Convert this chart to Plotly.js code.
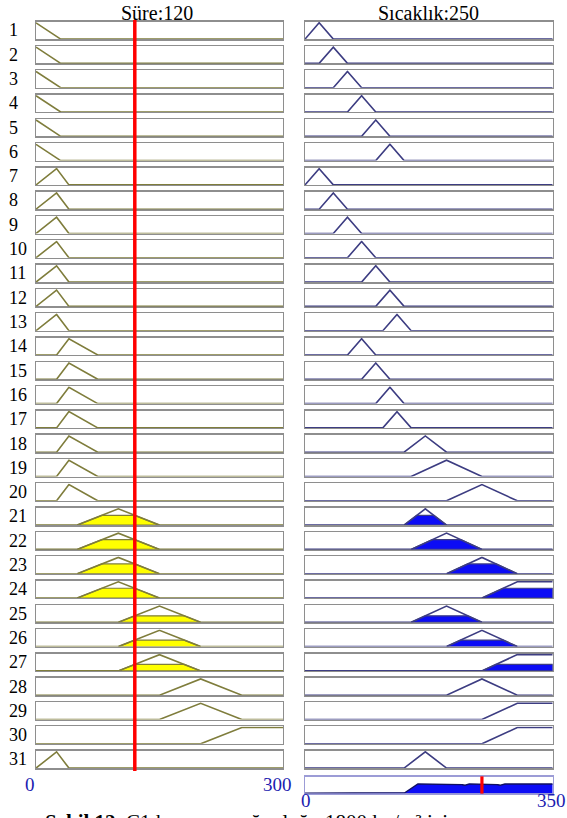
<!DOCTYPE html>
<html>
<head>
<meta charset="utf-8">
<script src="https://cdn.plot.ly/plotly-3.0.1.min.js"></script>
<style>
  html, body { margin: 0; padding: 0; background: #ffffff; }
  #chart { width: 567px; height: 818px; }
</style>
</head>
<body>
<div id="chart"></div>
<script>
// Fuzzy rule viewer: input "Süre", output "Sıcaklık", 31 rules.
const ruleNumbers = Array.from({length: 31}, (_, i) => String(i + 1));

const sureRange = [0, 300];
const sicaklikRange = [0, 350];
const sureInput = 120;        // crisp input value
const sicaklikOutput = 250;   // defuzzified output value

// Trapezoid parameters [a, b, c, d] (triangles have b == c) for each rule's antecedent
const sureMf = [
  [0, 0, 0, 30], [0, 0, 0, 30], [0, 0, 0, 30], [0, 0, 0, 30], [0, 0, 0, 30], [0, 0, 0, 30],
  [0, 25, 25, 40], [0, 25, 25, 40], [0, 25, 25, 40], [0, 25, 25, 40], [0, 25, 25, 40], [0, 25, 25, 40], [0, 25, 25, 40],
  [25, 40, 40, 75], [25, 40, 40, 75], [25, 40, 40, 75], [25, 40, 40, 75], [25, 40, 40, 75], [25, 40, 40, 75], [25, 40, 40, 75],
  [50, 100, 100, 150], [50, 100, 100, 150], [50, 100, 100, 150], [50, 100, 100, 150],
  [100, 150, 150, 200], [100, 150, 150, 200], [100, 150, 150, 200],
  [150, 200, 200, 250], [150, 200, 200, 250],
  [200, 250, 300, 300],
  [0, 25, 25, 40]
];

// Consequent membership functions for each rule
const sicaklikMf = [
  [0, 20, 20, 40], [20, 40, 40, 60], [40, 60, 60, 80], [60, 80, 80, 100], [80, 100, 100, 120], [100, 120, 120, 140],
  [0, 20, 20, 40], [20, 40, 40, 60], [40, 60, 60, 80], [60, 80, 80, 100], [80, 100, 100, 120], [100, 120, 120, 140],
  [110, 130, 130, 150],
  [60, 80, 80, 100], [80, 100, 100, 120], [100, 120, 120, 140], [110, 130, 130, 150],
  [140, 170, 170, 200], [150, 200, 200, 250], [200, 250, 250, 300],
  [140, 170, 170, 200], [150, 200, 200, 250], [200, 250, 250, 300], [250, 300, 350, 350],
  [150, 200, 200, 250], [200, 250, 250, 300], [250, 300, 350, 350],
  [200, 250, 250, 300], [250, 300, 350, 350], [250, 300, 350, 350],
  [140, 170, 170, 200]
];

// ---- page geometry (pixels) ----
const W = 567, H = 818;
const rowTop0 = 21.7, rowPitch = 24.3, rowH = 17.4;
const leftPx = [36, 283], rightPx = [305, 552.7];
const outTop = 776.7, outBottom = 793.3;
const yRange = [0, 1.07];

const colInput = '#7f7d3c', colOutput = '#3d3d82';
const fillInput = '#ffff00', fillOutput = '#0c0cf5';

const px = v => v / W;
const py = v => 1 - v / H;

function mu(p, x) {
  const [a, b, c, d] = p;
  if (x < a || x > d) return 0;
  if (x < b) return (x - a) / (b - a);
  if (x <= c) return 1;
  return (d - x) / (d - c);
}

// full membership curve across the universe, baseline included
function mfLine(p, range) {
  const [a, b, c, d] = p;
  const xs = [], ys = [];
  if (a === range[0] && b === a) { xs.push(a); ys.push(1); }
  else { xs.push(range[0], a, b); ys.push(0, 0, 1); }
  if (c !== b) { xs.push(c); ys.push(1); }
  if (!(d === range[1] && c === d)) { xs.push(d, range[1]); ys.push(0, 0); }
  return {x: xs, y: ys};
}

// membership area clipped at level h
function clipped(p, h) {
  const [a, b, c, d] = p;
  const xl = a + h * (b - a), xr = d - h * (d - c);
  return {x: [a, xl, xr, d, a], y: [0, h, h, 0, 0]};
}

const traces = [];
const layout = {
  width: W, height: H,
  margin: {l: 0, r: 0, t: 0, b: 0},
  paper_bgcolor: '#ffffff', plot_bgcolor: '#ffffff',
  showlegend: false,
  font: {family: 'Liberation Serif, Times New Roman, serif', color: '#000'},
  shapes: [], annotations: []
};

function addAxes(idx, xDom, yDom, range, frameColor) {
  const k = idx === 1 ? '' : String(idx);
  layout['xaxis' + k] = {
    domain: xDom, range: range, anchor: 'y' + k,
    showticklabels: false, ticks: '', showgrid: false, zeroline: false,
    showline: true, mirror: true, linecolor: frameColor, linewidth: 1.4,
    layer: 'below traces', fixedrange: true
  };
  layout['yaxis' + k] = {
    domain: yDom, range: yRange, anchor: 'x' + k,
    showticklabels: false, ticks: '', showgrid: false, zeroline: false,
    showline: true, mirror: true, linecolor: frameColor, linewidth: 1.4,
    layer: 'below traces', fixedrange: true
  };
  return {xa: 'x' + k, ya: 'y' + k};
}

const strengths = sureMf.map(p => mu(p, sureInput));

ruleNumbers.forEach((label, r) => {
  const top = rowTop0 + r * rowPitch;
  const yDom = [py(top + rowH), py(top)];

  // antecedent
  const L = addAxes(2 * r + 1, [px(leftPx[0]), px(leftPx[1])], yDom, sureRange, '#8e8e8e');
  const w = strengths[r];
  if (w > 0) {
    const f = clipped(sureMf[r], w);
    traces.push({type: 'scatter', mode: 'lines', x: f.x, y: f.y, xaxis: L.xa, yaxis: L.ya,
      fill: 'toself', fillcolor: fillInput, line: {color: colInput, width: 1.2}, hoverinfo: 'skip'});
  }
  const m1 = mfLine(sureMf[r], sureRange);
  traces.push({type: 'scatter', mode: 'lines', x: m1.x, y: m1.y, xaxis: L.xa, yaxis: L.ya,
    line: {color: colInput, width: 1.6}, hoverinfo: 'skip'});

  // consequent
  const R = addAxes(2 * r + 2, [px(rightPx[0]), px(rightPx[1])], yDom, sicaklikRange, '#8e8e8e');
  if (w > 0) {
    const f = clipped(sicaklikMf[r], w);
    traces.push({type: 'scatter', mode: 'lines', x: f.x, y: f.y, xaxis: R.xa, yaxis: R.ya,
      fill: 'toself', fillcolor: fillOutput, line: {color: colOutput, width: 1.2}, hoverinfo: 'skip'});
  }
  const m2 = mfLine(sicaklikMf[r], sicaklikRange);
  traces.push({type: 'scatter', mode: 'lines', x: m2.x, y: m2.y, xaxis: R.xa, yaxis: R.ya,
    line: {color: colOutput, width: 1.6}, hoverinfo: 'skip'});

  layout.annotations.push({
    xref: 'paper', yref: 'paper', x: px(7), y: py(top + rowH / 2),
    xanchor: 'left', yanchor: 'middle', showarrow: false, text: label,
    font: {size: 18, color: '#000', family: 'Liberation Serif, serif'}
  });
});

// aggregated output (max of clipped consequents)
const O = addAxes(63, [px(rightPx[0]), px(rightPx[1])], [py(outBottom), py(outTop)], sicaklikRange, '#9c9cd6');
const aggX = [], aggY = [];
for (let x = sicaklikRange[0]; x <= sicaklikRange[1]; x += 0.5) {
  let v = 0;
  sicaklikMf.forEach((p, i) => { v = Math.max(v, Math.min(mu(p, x), strengths[i])); });
  aggX.push(x); aggY.push(v);
}
traces.push({type: 'scatter', mode: 'lines', x: aggX, y: aggY, xaxis: O.xa, yaxis: O.ya,
  fill: 'tozeroy', fillcolor: fillOutput, line: {color: '#101060', width: 1.4}, hoverinfo: 'skip'});

// crisp input / output markers
layout.shapes.push({type: 'line', xref: 'x', yref: 'paper', x0: sureInput, x1: sureInput,
  y0: py(771), y1: py(20), line: {color: '#ff0000', width: 3.5}, layer: 'above'});
layout.shapes.push({type: 'line', xref: O.xa, yref: O.ya + ' domain', x0: sicaklikOutput, x1: sicaklikOutput,
  y0: -0.02, y1: 1.02, line: {color: '#ff0000', width: 3.2}, layer: 'above'});

// column titles
const titleFont = {size: 20, color: '#000', family: 'Liberation Serif, serif'};
layout.annotations.push(
  {xref: 'paper', yref: 'paper', x: px(157), y: py(0), xanchor: 'center', yanchor: 'top',
   showarrow: false, text: 'Süre:' + sureInput, font: titleFont},
  {xref: 'paper', yref: 'paper', x: px(428), y: py(0), xanchor: 'center', yanchor: 'top',
   showarrow: false, text: 'Sıcaklık:' + sicaklikOutput, font: titleFont}
);

// range labels
const tickFont = {size: 19, color: '#1c1cb0', family: 'Liberation Serif, serif'};
layout.annotations.push(
  {xref: 'paper', yref: 'paper', x: px(30), y: py(784), xanchor: 'center', yanchor: 'middle',
   showarrow: false, text: String(sureRange[0]), font: tickFont},
  {xref: 'paper', yref: 'paper', x: px(277), y: py(784), xanchor: 'center', yanchor: 'middle',
   showarrow: false, text: String(sureRange[1]), font: tickFont},
  {xref: 'paper', yref: 'paper', x: px(306), y: py(800), xanchor: 'center', yanchor: 'middle',
   showarrow: false, text: String(sicaklikRange[0]), font: tickFont},
  {xref: 'paper', yref: 'paper', x: px(551), y: py(800), xanchor: 'center', yanchor: 'middle',
   showarrow: false, text: String(sicaklikRange[1]), font: tickFont}
);

// figure caption (runs past the lower edge of the page)
layout.annotations.push({
  xref: 'paper', yref: 'paper', x: px(43), y: py(808), xanchor: 'left', yanchor: 'top',
  showarrow: false,
  text: '<b>Şekil 12.</b> C1 karışımı yoğunluğu 1800 kg/m³ için',
  font: {size: 21, color: '#000', family: 'Liberation Serif, serif'}
});

Plotly.newPlot('chart', traces, layout, {staticPlot: true, displayModeBar: false});
</script>
</body>
</html>
